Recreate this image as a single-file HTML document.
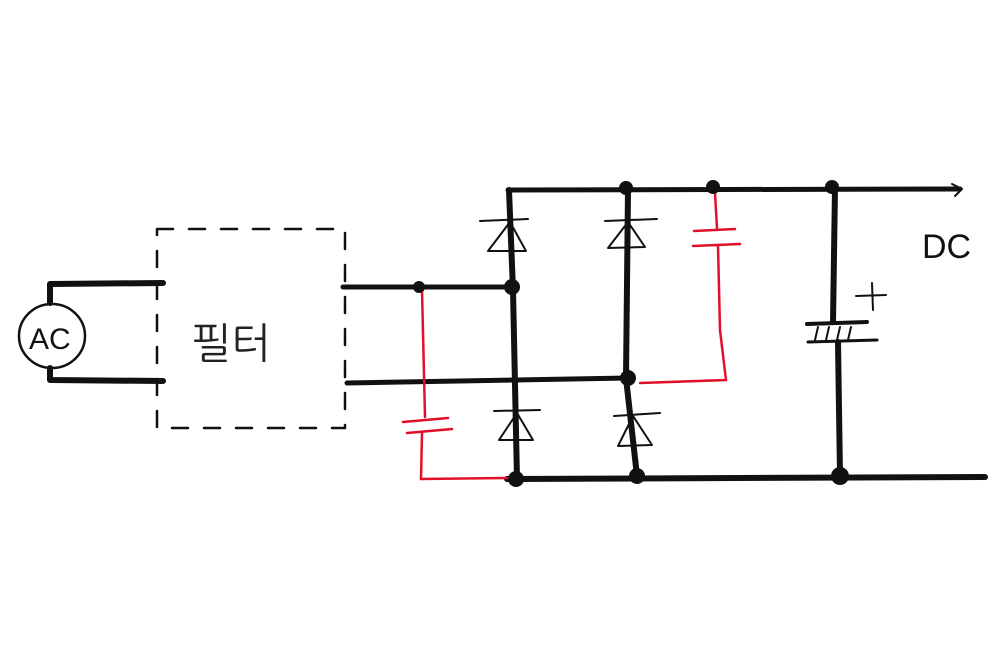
<!DOCTYPE html>
<html><head><meta charset="utf-8"><style>
html,body{margin:0;padding:0;background:#fff;}
svg{display:block;}
</style></head><body>
<svg width="1000" height="667" viewBox="0 0 1000 667" xmlns="http://www.w3.org/2000/svg">
<rect width="1000" height="667" fill="#fff"/>
<g fill="none" stroke="#111" stroke-linecap="round" stroke-linejoin="round">
<!-- AC source -->
<ellipse cx="52" cy="336" rx="33" ry="32" stroke-width="2.5"/>
<polyline points="50,303 50,284 163,283" stroke-width="6"/>
<polyline points="50,368 50,380 163,381" stroke-width="6"/>
<!-- dashed filter box -->
<rect x="157" y="229" width="188" height="199" stroke-width="2.5" stroke-dasharray="16,16"/>
<!-- wires out of filter -->
<polyline points="343,287 513,287" stroke-width="5"/>
<polyline points="347,383 628,378" stroke-width="5"/>
<!-- top rail -->
<polyline points="508,190 960,189" stroke-width="5"/>
<polyline points="952,184 962,189 955,196" stroke-width="2"/>
<!-- bottom rail -->
<polyline points="507,479 985,477" stroke-width="6"/>
<!-- column 1 -->
<polyline points="509,190 513,290 517,479" stroke-width="6"/>
<!-- column 2 -->
<polyline points="628,190 626,378 637,476" stroke-width="6"/>
<!-- column 3 (electrolytic cap) -->
<polyline points="835,188 833,322" stroke-width="6"/>
<polyline points="838,342 840,475" stroke-width="6"/>
<line x1="807" y1="324" x2="867" y2="322" stroke-width="4"/>
<line x1="808" y1="342" x2="877" y2="340" stroke-width="3"/>
<g stroke-width="2"><line x1="815" y1="340" x2="818" y2="327"/><line x1="826" y1="340" x2="829" y2="327"/><line x1="837" y1="340" x2="840" y2="327"/><line x1="848" y1="340" x2="851" y2="327"/></g>
<line x1="856" y1="296" x2="886" y2="295" stroke-width="2"/>
<line x1="872" y1="283" x2="873" y2="310" stroke-width="2"/>
<!-- diodes -->
<g stroke-width="2">
<line x1="480" y1="221" x2="528" y2="219"/><polygon points="488,251 526,251 510,222"/>
<line x1="605" y1="221" x2="657" y2="219"/><polygon points="608,248 645,247 628,222"/>
<line x1="494" y1="411" x2="540" y2="410"/><polygon points="499,440 533,440 517,413"/>
<line x1="614" y1="416" x2="660" y2="413"/><polygon points="618,446 652,445 633,416"/>
</g>
</g>
<!-- red caps -->
<g fill="none" stroke="#e0102a" stroke-width="2.5" stroke-linecap="round">
<polyline points="422,290 425,417"/>
<line x1="403" y1="422" x2="448" y2="418"/>
<line x1="407" y1="433" x2="452" y2="429"/>
<polyline points="422,433 421,479 507,478"/>
<polyline points="715,193 717,228"/>
<line x1="694" y1="231" x2="735" y2="229"/>
<line x1="693" y1="246" x2="740" y2="244"/>
<polyline points="718,246 720,330 726,380 640,383"/>
</g>
<!-- nodes -->
<g fill="#111">
<circle cx="419" cy="287" r="6"/>
<circle cx="512" cy="287" r="8"/>
<circle cx="516" cy="479" r="8"/>
<circle cx="626" cy="188" r="7"/>
<circle cx="628" cy="378" r="8"/>
<circle cx="637" cy="476" r="8"/>
<circle cx="713" cy="187" r="7"/>
<circle cx="832" cy="187" r="7"/>
<circle cx="840" cy="476" r="9"/>
</g>
<text x="192" y="358" font-family="'Liberation Sans','NanumGothic',sans-serif" font-size="42" fill="#222">필터</text>
<text x="29" y="349" font-family="'Liberation Sans',sans-serif" font-size="30" fill="#111">AC</text>
<text x="922" y="258" font-family="'Liberation Sans',sans-serif" font-size="34" fill="#111">DC</text>
</svg>
</body></html>
